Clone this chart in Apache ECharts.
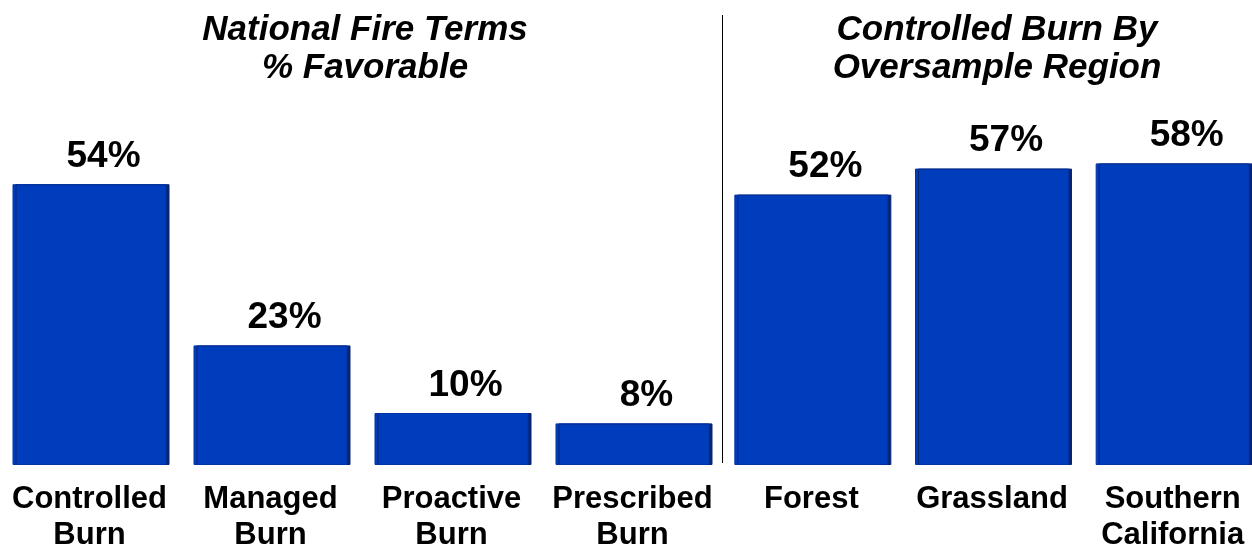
<!DOCTYPE html>
<html>
<head>
<meta charset="utf-8">
<script src="https://cdn.jsdelivr.net/npm/echarts@6/dist/echarts.min.js"></script>
<style>
  html, body { margin: 0; padding: 0; background: #fff; }
  #main { width: 1252px; height: 546px; }
</style>
</head>
<body>
<div id="main"></div>
<script>
    // 左边：全国用语好感度
    var termNames = ['Controlled\nBurn', 'Managed\nBurn', 'Proactive\nBurn', 'Prescribed\nBurn'];
    var termValues = [54, 23, 10, 8];

    // 右边：按地区
    var regionNames = ['Forest', 'Grassland', 'Southern\nCalifornia'];
    var regionValues = [52, 57, 58];

    var leftTitle = 'National Fire Terms\n% Favorable';
    var rightTitle = 'Controlled Burn By\nOversample Region';

    var myChart = echarts.init(document.getElementById('main'));

    var barColor = '#003DBD';
    var edgeColor = '#0A2470';
    var font = 'Liberation Sans, Arial, sans-serif';

    var barStyle = {
        color: barColor,
        borderColor: '#0033A8',
        borderWidth: 1,
        shadowColor: edgeColor,
        shadowOffsetX: 3,
        shadowOffsetY: 0,
        shadowBlur: 0
    };

    var valueLabel = {
        show: true,
        position: 'top',
        distance: 9,
        offset: [14, 0],
        formatter: '{c}%',
        color: '#000',
        fontFamily: font,
        fontWeight: 'bold',
        fontSize: 37
    };

    var catLabel = {
        interval: 0,
        color: '#000',
        fontFamily: font,
        fontWeight: 'bold',
        fontSize: 31,
        lineHeight: 36,
        margin: 16
    };

    var titleStyle = {
        color: '#000',
        fontFamily: font,
        fontWeight: 'bold',
        fontStyle: 'italic',
        fontSize: 35,
        lineHeight: 38
    };

    var option = {
        animation: false,
        backgroundColor: '#fff',
        title: [
            { text: leftTitle, left: 360, top: 6, textAlign: 'center', textStyle: titleStyle },
            { text: rightTitle, left: 992, top: 6, textAlign: 'center', textStyle: titleStyle }
        ],
        grid: [
            { left: -1, width: 724, top: 153, height: 312, outerBoundsMode: 'none' },
            { left: 721, width: 542, top: 153, height: 312, outerBoundsMode: 'none' }
        ],
        xAxis: [
            {
                type: 'category', gridIndex: 0, data: termNames,
                axisLine: { show: false }, axisTick: { show: false },
                axisLabel: catLabel
            },
            {
                type: 'category', gridIndex: 1, data: regionNames,
                axisLine: { show: false }, axisTick: { show: false },
                axisLabel: catLabel
            }
        ],
        yAxis: [
            { type: 'value', gridIndex: 0, min: 0, max: 60, show: false },
            { type: 'value', gridIndex: 1, min: 0, max: 60, show: false }
        ],
        series: [
            {
                type: 'bar', xAxisIndex: 0, yAxisIndex: 0,
                data: termValues, barWidth: 154,
                itemStyle: barStyle, label: valueLabel
            },
            {
                type: 'bar', xAxisIndex: 1, yAxisIndex: 1,
                data: regionValues, barWidth: 154,
                itemStyle: barStyle, label: valueLabel
            }
        ],
        graphic: [
            {
                type: 'line',
                shape: { x1: 722.5, y1: 15, x2: 722.5, y2: 463 },
                style: { stroke: '#000', lineWidth: 1 }
            }
        ]
    };

    myChart.setOption(option);
</script>
</body>
</html>
